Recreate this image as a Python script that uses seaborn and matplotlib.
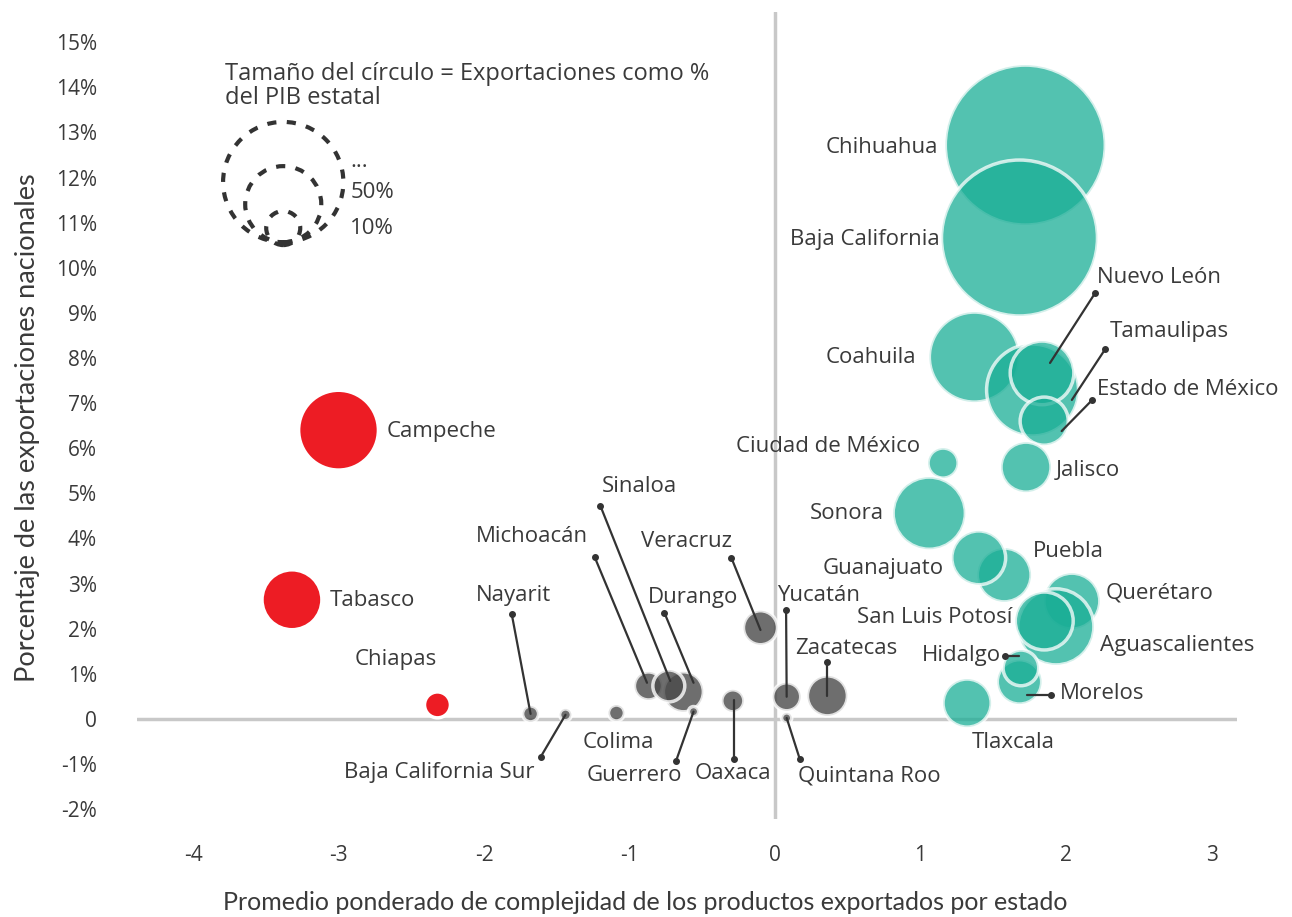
import matplotlib
matplotlib.use("Agg")
import matplotlib.pyplot as plt
import seaborn as sns
import pandas as pd

# estados: complejidad (x), % de exportaciones nacionales (y), exportaciones como % del PIB estatal (tamano)
green_states = ["Coahuila", "Tamaulipas", "Nuevo León", "Estado de México", "Chihuahua",
                "Baja California", "Ciudad de México", "Jalisco", "Sonora", "Puebla",
                "Guanajuato", "Querétaro", "Aguascalientes", "San Luis Potosí", "Morelos",
                "Hidalgo", "Tlaxcala"]
green_x = [1.37, 1.77, 1.835, 1.85, 1.72, 1.68, 1.155, 1.725, 1.06, 1.575,
           1.40, 2.04, 1.93, 1.85, 1.68, 1.69, 1.32]
green_y = [8.02, 7.29, 7.67, 6.60, 12.72, 10.66, 5.67, 5.58, 4.56, 3.19,
           3.57, 2.61, 2.04, 2.17, 0.82, 1.13, 0.35]
green_pib = [70, 73, 35, 20, 221, 210, 7.8, 21.6, 45, 25,
             25, 27, 50, 29, 17, 11, 20]

red_states = ["Campeche", "Tabasco", "Chiapas"]
red_x = [-3.00, -3.32, -2.32]
red_y = [6.40, 2.64, 0.31]
red_pib = [55, 31, 5.8]

gray_states = ["Nayarit", "Baja California Sur", "Colima", "Michoacán", "Durango", "Sinaloa",
               "Guerrero", "Oaxaca", "Veracruz", "Yucatán", "Quintana Roo", "Zacatecas"]
gray_x = [-1.68, -1.44, -1.09, -0.87, -0.63, -0.73, -0.56, -0.29, -0.10, 0.08, 0.08, 0.36]
gray_y = [0.11, 0.09, 0.13, 0.73, 0.60, 0.73, 0.16, 0.40, 2.02, 0.49, 0.02, 0.51]
gray_pib = [2.2, 1.2, 2.2, 6.8, 13.8, 8.8, 0.9, 4.2, 10, 6.8, 0.9, 13.8]

y_ticks = list(range(-2, 16))
x_ticks = list(range(-4, 4))

legend_values = [125, 50, 10]
legend_texts = ["...", "50%", "10%"]

FONT = ["Open Sans", "DejaVu Sans"]
TXT = "#3a3a3a"
FS = 16


def area(v):
    # area proporcional al % del PIB: 10% -> radio ~17 px
    r_px = 5.38 * v ** 0.5
    return (2 * r_px * 0.72) ** 2


sns.set_theme(style="white")
plt.rcParams["font.family"] = FONT

fig = plt.figure(figsize=(12.92, 9.17), dpi=100)
ax = fig.add_axes([137 / 1292, 1 - 819 / 917, 1100 / 1292, 807 / 917])
ax.set_xlim(-4.385, 3.175)
ax.set_ylim(-2.22, 15.67)
for s in ax.spines.values():
    s.set_visible(False)

ax.axhline(0, color="#c8c8c8", lw=2.5, zorder=0)
ax.axvline(0, color="#c8c8c8", lw=2.5, zorder=0)

groups = [
    (green_states, green_x, green_y, green_pib, "#1aae96", 0.75),
    (red_states, red_x, red_y, red_pib, "#ed1c24", 1.0),
    (gray_states, gray_x, gray_y, gray_pib, "#4a4a4a", 0.8),
]
for names, xs, ys, pib, col, a in groups:
    df = pd.DataFrame({"estado": names, "x": xs, "y": ys, "pib": pib})
    sns.scatterplot(data=df, x="x", y="y", ax=ax, color=col, alpha=a,
                    s=[area(v) for v in df["pib"]], edgecolor="white",
                    linewidth=2.5, legend=False, zorder=2)

# etiquetas: (x, y, alineacion)
labels = {
    "Chihuahua": (1.12, 12.67, "right"), "Baja California": (1.13, 10.62, "right"),
    "Nuevo León": (2.21, 9.79, "left"), "Tamaulipas": (2.30, 8.58, "left"),
    "Estado de México": (2.21, 7.31, "left"), "Coahuila": (0.97, 8.0, "right"),
    "Campeche": (-2.67, 6.36, "left"), "Ciudad de México": (1.0, 6.03, "right"),
    "Jalisco": (1.93, 5.51, "left"), "Sonora": (0.75, 4.56, "right"),
    "Puebla": (1.77, 3.72, "left"), "Guanajuato": (1.16, 3.34, "right"),
    "Querétaro": (2.27, 2.78, "left"), "San Luis Potosí": (1.63, 2.24, "right"),
    "Aguascalientes": (2.23, 1.62, "left"), "Hidalgo": (1.55, 1.40, "right"),
    "Morelos": (1.96, 0.57, "left"), "Tlaxcala": (1.64, -0.53, "center"),
    "Tabasco": (-3.06, 2.62, "left"), "Chiapas": (-2.61, 1.31, "center"),
    "Nayarit": (-1.80, 2.73, "center"), "Michoacán": (-1.67, 4.05, "center"),
    "Sinaloa": (-0.93, 5.14, "center"), "Veracruz": (-0.61, 3.94, "center"),
    "Durango": (-0.56, 2.70, "center"), "Yucatán": (0.30, 2.73, "center"),
    "Zacatecas": (0.49, 1.57, "center"), "Colima": (-1.08, -0.53, "center"),
    "Baja California Sur": (-2.31, -1.20, "center"), "Guerrero": (-0.97, -1.26, "center"),
    "Oaxaca": (-0.29, -1.22, "center"), "Quintana Roo": (0.65, -1.26, "center"),
}
for name, (lx, ly, ha) in labels.items():
    ax.text(lx, ly, name, ha=ha, va="center", fontsize=FS, color=TXT, zorder=5)

# lineas guia: punto de la etiqueta -> circulo
leaders = {
    "Nuevo León": (2.20, 9.44, 1.89, 7.89), "Tamaulipas": (2.27, 8.20, 2.04, 7.07),
    "Estado de México": (2.18, 7.07, 1.97, 6.38), "Hidalgo": (1.58, 1.40, 1.68, 1.40),
    "Morelos": (1.90, 0.53, 1.73, 0.53), "Nayarit": (-1.81, 2.33, -1.68, 0.11),
    "Baja California Sur": (-1.61, -0.84, -1.44, 0.09), "Michoacán": (-1.24, 3.59, -0.88, 0.80),
    "Sinaloa": (-1.20, 4.72, -0.72, 0.84), "Durango": (-0.76, 2.35, -0.56, 0.80),
    "Veracruz": (-0.30, 3.57, -0.10, 1.97), "Guerrero": (-0.68, -0.93, -0.56, 0.16),
    "Oaxaca": (-0.28, -0.89, -0.28, 0.42), "Yucatán": (0.076, 2.42, 0.08, 0.49),
    "Quintana Roo": (0.17, -0.89, 0.08, 0.02), "Zacatecas": (0.36, 1.26, 0.36, 0.51),
}
for name, (x0, y0, x1, y1) in leaders.items():
    ax.plot([x0, x1], [y0, y1], color="#333333", lw=1.6, zorder=4)
    ax.plot([x0], [y0], "o", color="#333333", ms=4, zorder=4)

# leyenda de tamano
ax.text(-3.78, 14.03, "Tamaño del círculo = Exportaciones como %\ndel PIB estatal",
        ha="left", va="center", fontsize=17, color=TXT, linespacing=1.0)
leg_x = -3.38
leg_y = [11.90, 11.41, 10.88]
ax.scatter([leg_x] * 3, leg_y, s=[area(v) for v in legend_values], facecolor="none",
           edgecolor="#333333", linewidth=3, linestyle=(0, (2.2, 2.5)), zorder=3)
for t, ty in zip(legend_texts, [12.36, 11.66, 10.86]):
    ax.text(-2.92, ty, t, ha="left", va="center", fontsize=FS, color=TXT)

ax.set_yticks(y_ticks)
ax.set_yticklabels(["0" if v == 0 else f"{v}%" for v in y_ticks])
ax.set_xticks(x_ticks)
ax.set_xticklabels([str(v) for v in x_ticks])
ax.tick_params(axis="y", length=0, pad=29, labelsize=15, labelcolor=TXT)
ax.tick_params(axis="x", length=0, pad=19, labelsize=15, labelcolor=TXT)
ax.set_xlabel("")
ax.set_ylabel("")

fig.text(645 / 1292, 1 - 902 / 917, "Promedio ponderado de complejidad de los productos exportados por estado",
         ha="center", va="center", fontsize=18, color=TXT, family=["Lato", "DejaVu Sans"])
fig.text(28 / 1292, 1 - 428 / 917, "Porcentaje de las exportaciones nacionales",
         ha="center", va="center", rotation=90, fontsize=19.5, color=TXT, family=["Lato", "DejaVu Sans"])

fig.savefig("out.png", dpi=100)
